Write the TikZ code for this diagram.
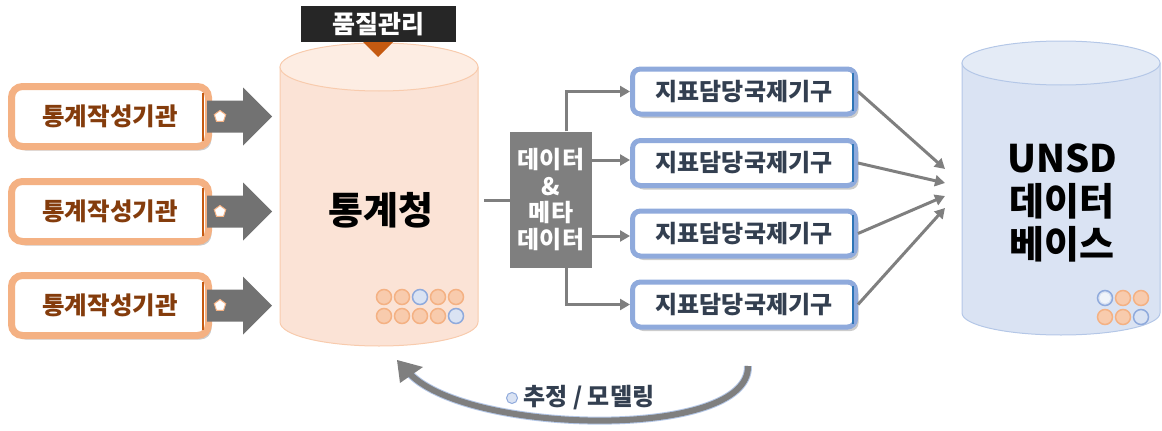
\documentclass[tikz,border=0pt]{standalone}
\usepackage{fontspec}
\setmainfont{Noto Sans CJK KR}
\usetikzlibrary{arrows.meta, shapes.geometric, shadows}

\definecolor{peachbody}{RGB}{251,227,214}
\definecolor{peachtop}{RGB}{253,237,227}
\definecolor{peachline}{RGB}{248,203,173}
\definecolor{orangeline}{RGB}{244,177,131}
\definecolor{darkorange}{RGB}{197,90,17}
\definecolor{brownText}{RGB}{132,60,12}
\definecolor{bluebody}{RGB}{218,227,243}
\definecolor{bluetop}{RGB}{228,235,246}
\definecolor{blueline}{RGB}{180,199,231}
\definecolor{boxblue}{RGB}{143,170,220}
\definecolor{darkblue}{RGB}{46,117,182}
\definecolor{navyText}{RGB}{51,63,80}
\definecolor{arrowgray}{RGB}{127,127,127}

\tikzset{
  agency/.style={draw=orangeline, line width=7pt, fill=white, rounded corners=11pt,
    minimum width=197pt, minimum height=60pt, font=\fontsize{24.5}{28}\selectfont\bfseries,
    text=brownText, drop shadow={opacity=0.4, shadow xshift=3pt, shadow yshift=-4pt}},
  intl/.style={draw=boxblue, line width=5pt, fill=white, rounded corners=8pt,
    minimum width=223pt, minimum height=45pt, font=\fontsize{24}{28}\selectfont\bfseries,
    text=navyText, drop shadow={opacity=0.4, shadow xshift=3pt, shadow yshift=-4pt}},
  dotO/.style={circle, draw=orangeline, line width=1.5pt, fill=peachline, minimum size=15pt, inner sep=0pt},
  dotB/.style={circle, draw=boxblue, line width=1.5pt, fill=bluebody, minimum size=15pt, inner sep=0pt},
  feed/.style={draw=arrowgray, line width=3pt, -{Triangle[length=10pt, width=11pt]}},
}

\begin{document}
\begin{tikzpicture}[x=1pt, y=-1pt]
	\useasboundingbox (0,0) rectangle (1162,431);

	% central cylinder
	\filldraw [fill=peachbody, draw=peachline, line width=1pt] (280,67) -- (280,322)
		arc [start angle=180, end angle=0, x radius=99, y radius=24] -- (478,67) -- cycle;
	\filldraw [fill=peachtop, draw=peachline, line width=1pt] (379,67) ellipse [x radius=99, y radius=24];
	\node (kostat) at (381,210) {\fontsize{38}{42}\selectfont\bfseries 통계청};
	\foreach \x/\s in {0/dotO, 1/dotO, 2/dotB, 3/dotO, 4/dotO}
		\node [\s] at (384+18*\x,297) {};
	\foreach \x/\s in {0/dotO, 1/dotO, 2/dotO, 3/dotO, 4/dotB}
		\node [\s] at (384+18*\x,316) {};

	% quality label
	\node [fill=black!85, text=white, minimum width=155pt, minimum height=36pt,
		font=\fontsize{25}{28}\selectfont\bfseries] (qc) at (378,24) {품질관리};
	\fill [darkorange] (363,42) -- (393,42) -- (378,57) -- cycle;

	% agencies
	\foreach \i/\y in {1/116.5, 2/211.5, 3/305.5} {
		\node [agency] (ag\i) at (110,\y) {통계작성기관};
		\draw [darkorange, line width=2pt] (203,\y-24) -- (203,\y+24);
		\fill [arrowgray!90!black] (207,\y-16) -- (243,\y-16) -- (243,\y-29) -- (272,\y)
			-- (243,\y+29) -- (243,\y+16) -- (207,\y+16) -- cycle;
		\node [regular polygon, regular polygon sides=5, draw=orangeline, fill=white,
			line width=1pt, minimum size=12pt, inner sep=0pt] at (220,\y) {};
	}

	% data and metadata
	\node [fill=arrowgray, text=white, minimum width=82pt, minimum height=136pt, align=center,
		font=\fontsize{24}{26.5}\selectfont\bfseries] (md) at (551,199.5) {데이터\\\&\\메타\\데이터};
	\coordinate (kostatR) at (484,200);
	\draw [arrowgray, line width=3pt] (kostatR) -- (md.west |- kostatR);

	% international organisations
	\foreach \i/\y in {1/91.5, 2/163, 3/233.5, 4/304.5} {
		\node [intl] (io\i) at (744,\y) {지표담당국제기구};
		\draw [darkblue, line width=2pt] (853,\y-19) -- (853,\y+19);
	}
	\draw [feed] ([xshift=15pt]md.north) |- (io1.west);
	\draw [feed] (md.east |- 0,160) -- (io2.west |- 0,160);
	\draw [feed] (md.east |- 0,236) -- (io3.west |- 0,236);
	\draw [feed] ([xshift=15pt]md.south) |- (io4.west);

	% UNSD cylinder
	\filldraw [fill=bluebody, draw=blueline, line width=1pt] (962,63) -- (962,313)
		arc [start angle=180, end angle=0, x radius=99, y radius=22] -- (1160,63) -- cycle;
	\filldraw [fill=bluetop, draw=blueline, line width=1pt] (1061,63) ellipse [x radius=99, y radius=22];
	\node [align=center, font=\fontsize{38}{43}\selectfont\bfseries] (unsd) at (1062,203)
		{UNSD\\데이터\\베이스};
	\foreach \x/\s in {0/dotB, 1/dotO, 2/dotO}
		\node [\s] at (1105+18*\x,298) {};
	\foreach \x/\s in {0/dotO, 1/dotO, 2/dotB}
		\node [\s] at (1105+18*\x,317) {};
	\fill [bluebody!40] (1105,298) circle (5.5pt);

	\coordinate (u1) at (945,169);
	\coordinate (u2) at (945,183);
	\coordinate (u3) at (945,196);
	\coordinate (u4) at (945,208);
	\foreach \i in {1,...,4}
		\draw [feed] (io\i.east) -- (u\i);

	% estimation loop
	\coordinate (loopS) at (748,366);
	\coordinate (loopE) at (410,374);
	\draw [blueline, line width=8pt] (loopS) .. controls (750,440) and (470,435) .. (loopE);
	\draw [arrowgray, line width=6pt] (loopS) .. controls (750,440) and (470,435) .. (loopE);
	\fill [arrowgray] (397,360) -- (423,367) -- (400,383) -- cycle;
	\node [dotB, minimum size=11pt, line width=1pt] (est) at (512,398) {};
	\node [anchor=west, text=navyText, font=\fontsize{24}{28}\selectfont\bfseries] (estL)
		at ([xshift=2pt]est.east) {추정 / 모델링};
\end{tikzpicture}
\end{document}
